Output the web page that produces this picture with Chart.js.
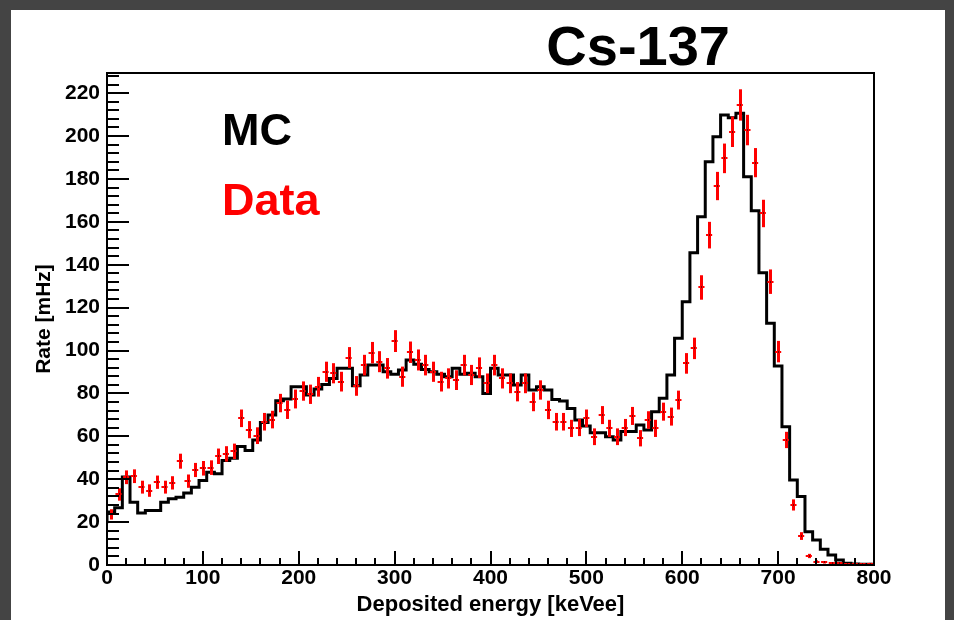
<!DOCTYPE html>
<html>
<head>
<meta charset="utf-8">
<script src="https://cdn.jsdelivr.net/npm/chart.js@4.4.1/dist/chart.umd.min.js"></script>
<style>
  html, body { margin:0; padding:0; background:#444444; width:954px; height:620px; overflow:hidden; }
  #panel { position:absolute; left:11px; top:10px; width:934px; height:610px; background:#ffffff; }
  #c { position:absolute; left:0; top:0; }
</style>
</head>
<body>
<div id="panel"></div>
<canvas id="c" width="954" height="620"></canvas>
<script>
// ---- data ----
const binWidth = 8; // keV
const binLow = [0,8,16,24,32,40,48,56,64,72,80,88,96,104,112,120,128,136,144,152,
  160,168,176,184,192,200,208,216,224,232,240,248,256,264,272,280,288,296,304,312,
  320,328,336,344,352,360,368,376,384,392,400,408,416,424,432,440,448,456,464,472,
  480,488,496,504,512,520,528,536,544,552,560,568,576,584,592,600,608,616,624,632,
  640,648,656,664,672,680,688,696,704,712,720,728,736,744,752,760,768,776,784,792];

const mcRate = [19.5,24.7,26.7,41.0,29.3,24.3,25.4,25.4,29.3,30.9,
  31.6,33.6,36.3,39.4,43.3,42.5,48.7,49.8,55.3,53.4,
  58.3,66.5,69.9,76.6,77.4,83.1,83.1,79.3,82.1,84.2,
  87.0,91.7,91.7,83.6,88.6,93.2,93.2,90.1,88.9,90.9,
  95.6,93.6,91.2,90.1,88.9,87.8,91.7,88.9,89.4,87.8,
  80.0,91.7,88.6,88.6,83.9,88.6,81.6,83.1,81.6,77.2,
  76.5,73.0,67.6,64.8,61.7,61.7,59.8,58.3,62.2,62.2,
  65.3,62.9,71.5,77.7,88.6,105.7,122.8,145.6,162.4,188.0,
  199.7,209.8,208.5,210.6,181.0,165.2,136.3,112.7,92.8,64.5,
  39.6,31.9,15.5,11.7,7.3,4.7,2.3,0.8,0.5,0.3];

const dataRate = [23.6,32.9,40.9,41.4,36.3,34.7,38.6,36.3,38.3,48.4,
  39.1,44.3,45.1,45.4,50.7,51.8,53.0,68.4,63.1,60.3,
  66.8,67.8,75.5,72.4,77.4,81.1,79.6,83.1,90.1,89.4,
  85.5,96.7,83.5,93.2,99.0,94.8,91.7,104.4,87.8,99.2,
  95.6,93.2,90.1,85.5,87.0,86.2,93.2,88.6,92.0,84.7,
  93.2,87.0,84.7,80.8,84.7,76.1,81.6,72.3,66.8,66.8,
  63.7,64.1,68.4,59.8,69.9,63.7,59.8,64.1,69.5,59.1,
  67.6,63.7,71.5,69.2,76.9,94.0,101.0,129.4,153.8,176.7,
  189.6,202.0,214.5,202.8,187.6,163.9,132.1,99.5,58.3,28.0,
  13.5,4.2,1.6,1.2,0.8,0.7,0.4,0.3,0.3,0.6];

const dataErr = [2.4,2.9,3.2,3.2,3.0,2.9,3.1,3.0,3.1,3.5,
  3.1,3.3,3.4,3.4,3.6,3.6,3.6,4.1,4.0,3.9,
  4.1,4.1,4.3,4.3,4.4,4.5,4.5,4.6,4.7,4.7,
  4.6,4.9,4.6,4.8,5.0,4.9,4.8,5.1,4.7,5.0,
  4.9,4.8,4.7,4.6,4.7,4.6,4.8,4.7,4.8,4.6,
  4.8,4.7,4.6,4.5,4.6,4.4,4.5,4.3,4.1,4.1,
  4.0,4.0,4.1,3.9,4.2,4.0,3.9,4.0,4.2,3.8,
  4.1,4.0,4.2,4.2,4.4,4.8,5.0,5.7,6.2,6.6,
  6.9,7.1,7.3,7.1,6.8,6.4,5.7,5.0,3.8,2.6,
  1.8,1.0,0.6,0.5,0.4,0.4,0.4,0.4,0.4,0.4];

const xTickValues = [0,100,200,300,400,500,600,700,800];
const yTickValues = [0,20,40,60,80,100,120,140,160,180,200,220];
const xMinorStep = 20;
const yMinorStep = 4;

const titleText = 'Cs-137';
const xTitle = 'Deposited energy [keVee]';
const yTitle = 'Rate [mHz]';
const legendMC = 'MC';
const legendData = 'Data';

// ---- build datasets ----
const mcPoints = binLow.map((x, i) => ({ x: x, y: mcRate[i] }));
mcPoints.push({ x: binLow[binLow.length - 1] + binWidth, y: mcRate[mcRate.length - 1] });
const dataPoints = binLow.map((x, i) => ({ x: x + binWidth / 2, y: dataRate[i] }));

const FONT = "'Liberation Sans', Arial, Helvetica, sans-serif";

const rootPlugin = {
  id: 'rootStyle',
  afterDatasetsDraw(chart) {
    const ctx = chart.ctx;
    const xs = chart.scales.x, ys = chart.scales.y;
    ctx.save();
    ctx.strokeStyle = '#ff0000';
    ctx.lineCap = 'butt';
    for (let i = 0; i < dataRate.length; i++) {
      const cx = Math.round(xs.getPixelForValue(binLow[i] + binWidth / 2)) + 0.5;
      const cy = Math.round(ys.getPixelForValue(dataRate[i]));
      const yTop = ys.getPixelForValue(dataRate[i] + dataErr[i]);
      const yBot = ys.getPixelForValue(Math.max(0, dataRate[i] - dataErr[i]));
      ctx.lineWidth = 3;
      ctx.beginPath(); ctx.moveTo(cx, yTop); ctx.lineTo(cx, yBot); ctx.stroke();
      ctx.lineWidth = 2;
      const x1 = xs.getPixelForValue(binLow[i] + 0.8);
      const x2 = xs.getPixelForValue(binLow[i] + binWidth - 0.8);
      ctx.beginPath(); ctx.moveTo(x1, cy); ctx.lineTo(x2, cy); ctx.stroke();
      ctx.fillStyle = '#000000';
      ctx.fillRect(cx - 0.5, cy - 0.5, 1, 1);
    }
    ctx.restore();
  },
  afterDraw(chart) {
    const ctx = chart.ctx;
    const a = chart.chartArea;
    const xs = chart.scales.x, ys = chart.scales.y;
    ctx.save();
    ctx.strokeStyle = '#000000';
    ctx.lineWidth = 2;
    ctx.strokeRect(a.left, a.top, a.right - a.left, a.bottom - a.top);
    ctx.lineWidth = 2;
    ctx.beginPath();
    for (let v = xs.min; v <= xs.max + 1e-6; v += xMinorStep) {
      const px = Math.round(xs.getPixelForValue(v));
      const major = xTickValues.includes(v);
      ctx.moveTo(px, a.bottom);
      ctx.lineTo(px, a.bottom - (major ? 14 : 7));
    }
    for (let v = ys.min; v <= ys.max + 1e-6; v += yMinorStep) {
      const py = Math.round(ys.getPixelForValue(v));
      const major = yTickValues.includes(v);
      ctx.moveTo(a.left, py);
      ctx.lineTo(a.left + (major ? 22 : 12), py);
    }
    ctx.stroke();
    ctx.fillStyle = '#000000';
    ctx.textBaseline = 'alphabetic';
    ctx.textAlign = 'center';
    ctx.font = 'bold 56px ' + FONT;
    ctx.fillText(titleText, xs.getPixelForValue(554), a.top - 8);
    ctx.textAlign = 'left';
    ctx.font = 'bold 45px ' + FONT;
    ctx.fillText(legendMC, xs.getPixelForValue(120), ys.getPixelForValue(195.8));
    ctx.fillStyle = '#ff0000';
    ctx.fillText(legendData, xs.getPixelForValue(120), ys.getPixelForValue(163.2));
    ctx.restore();
  }
};

new Chart(document.getElementById('c'), {
  type: 'scatter',
  data: {
    datasets: [
      {
        type: 'line',
        label: 'MC',
        data: mcPoints,
        stepped: 'after',
        borderColor: '#000000',
        borderWidth: 3,
        pointRadius: 0,
        fill: false,
        order: 2
      },
      {
        type: 'scatter',
        label: 'Data',
        data: dataPoints,
        pointRadius: 0,
        showLine: false,
        order: 1
      }
    ]
  },
  options: {
    responsive: false,
    animation: false,
    devicePixelRatio: 1,
    layout: { padding: { left: 0, top: 73, right: 80, bottom: 0 } },
    plugins: { legend: { display: false }, tooltip: { enabled: false } },
    scales: {
      x: {
        type: 'linear', position: 'bottom', min: 0, max: 800,
        grid: { display: false, drawTicks: false },
        border: { display: false },
        afterBuildTicks: (s) => { s.ticks = xTickValues.map(v => ({ value: v })); },
        afterFit: (s) => { s.height = 55; },
        ticks: { color: '#000', padding: 1, maxRotation: 0, autoSkip: false,
                 font: { family: FONT, size: 21, weight: 'bold' } },
        title: { display: true, text: xTitle, color: '#000',
                 font: { family: FONT, size: 22, weight: 'bold' }, padding: { top: 0, bottom: 2 } }
      },
      y: {
        type: 'linear', position: 'left', min: 0, max: 229.4,
        grid: { display: false, drawTicks: false },
        border: { display: false },
        afterBuildTicks: (s) => { s.ticks = yTickValues.map(v => ({ value: v })); },
        afterFit: (s) => { s.width = 107; },
        ticks: { color: '#000', padding: 7, autoSkip: false,
                 font: { family: FONT, size: 21, weight: 'bold' } },
        title: { display: true, text: yTitle, color: '#000',
                 font: { family: FONT, size: 21, weight: 'bold' }, padding: { top: 32, bottom: 0 } }
      }
    }
  },
  plugins: [rootPlugin]
});
</script>
</body>
</html>
